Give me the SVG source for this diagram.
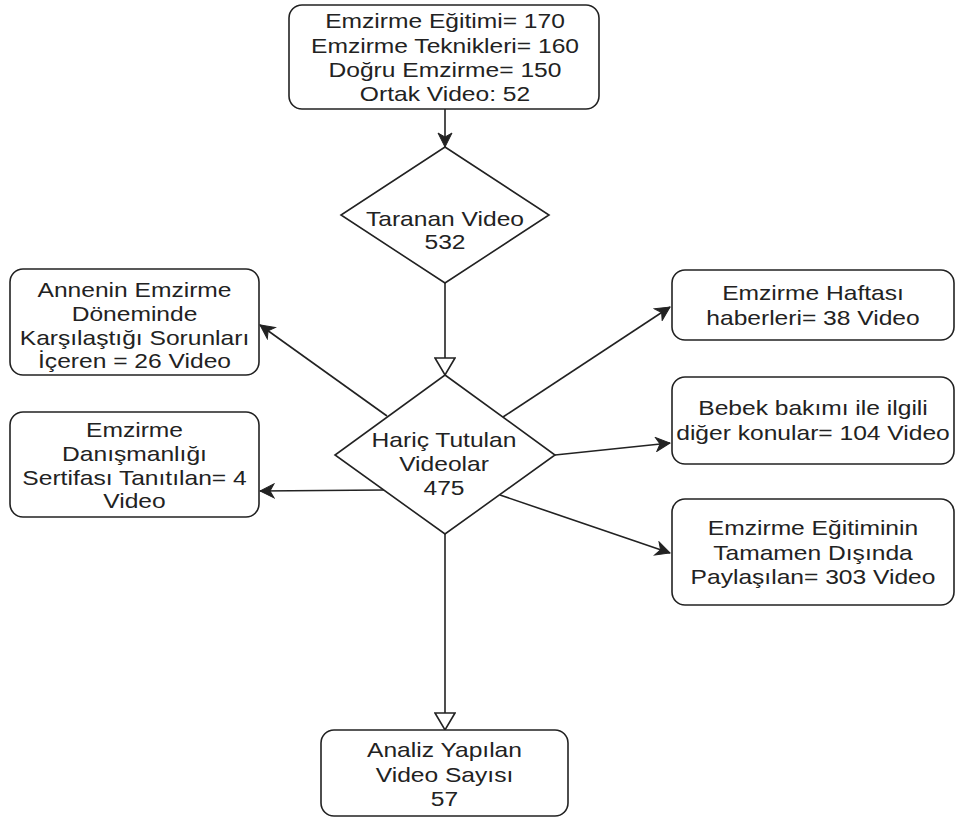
<svg xmlns="http://www.w3.org/2000/svg" width="956" height="818" viewBox="0 0 956 818">
<style>
.box{fill:#fff;stroke:#222;stroke-width:1.6}
.t{font-family:"Liberation Sans",Arial,sans-serif;font-size:20.5px;fill:#222;text-anchor:middle}
.c{fill:none;stroke:#222;stroke-width:1.6}
</style>
<defs>
<marker id="fa" markerUnits="userSpaceOnUse" markerWidth="16" markerHeight="16" viewBox="0 0 16 16" refX="15" refY="8" orient="auto">
<path d="M1,1 L15,8 L1,15 L5,8 Z" fill="#222" stroke="#222" stroke-width="1"/>
</marker>
<marker id="oa" markerUnits="userSpaceOnUse" markerWidth="20" markerHeight="22" viewBox="0 0 20 22" refX="18" refY="11" orient="auto">
<path d="M1,1 L18,11 L1,21 Z" fill="#fff" stroke="#222" stroke-width="1.6"/>
</marker>
</defs>
<rect width="956" height="818" fill="#fff"/>
<g id="connectors">
<line class="c" x1="445" y1="109" x2="445" y2="147" marker-end="url(#fa)"/>
<line class="c" x1="445" y1="283" x2="445" y2="375" marker-end="url(#oa)"/>
<line class="c" x1="445" y1="534" x2="445" y2="730" marker-end="url(#oa)"/>
<line class="c" x1="387" y1="416" x2="260" y2="325" marker-end="url(#fa)"/>
<line class="c" x1="384" y1="490" x2="260" y2="491" marker-end="url(#fa)"/>
<line class="c" x1="503" y1="417" x2="670" y2="307" marker-end="url(#fa)"/>
<line class="c" x1="555" y1="455" x2="670" y2="443" marker-end="url(#fa)"/>
<line class="c" x1="500" y1="495" x2="670" y2="553" marker-end="url(#fa)"/>
</g>
<g id="node-top">
<rect class="box" x="289" y="5" width="310" height="104" rx="13"/>
<text class="t" transform="translate(445,0) scale(1.2,1)"><tspan x="0" y="28">Emzirme Eğitimi= 170</tspan><tspan x="0" y="53">Emzirme Teknikleri= 160</tspan><tspan x="0" y="77">Doğru Emzirme= 150</tspan><tspan x="0" y="101">Ortak Video: 52</tspan></text>
</g>
<g id="node-taranan">
<polygon class="box" points="445,147 549,215 445,283 341,215"/>
<text class="t" transform="translate(445,0) scale(1.2,1)"><tspan x="0" y="226">Taranan Video</tspan><tspan x="0" y="249">532</tspan></text>
</g>
<g id="node-haric">
<polygon class="box" points="445,375 555,455 445,534 335,455"/>
<text class="t" transform="translate(444,0) scale(1.2,1)"><tspan x="0" y="447">Hariç Tutulan</tspan><tspan x="0" y="471">Videolar</tspan><tspan x="0" y="495">475</tspan></text>
</g>
<g id="node-annenin">
<rect class="box" x="10" y="269" width="249" height="106" rx="13"/>
<text class="t" transform="translate(134.5,0) scale(1.2,1)"><tspan x="0" y="297">Annenin Emzirme</tspan><tspan x="0" y="321">Döneminde</tspan><tspan x="0" y="345">Karşılaştığı Sorunları</tspan><tspan x="0" y="368">İçeren = 26 Video</tspan></text>
</g>
<g id="node-sertifika">
<rect class="box" x="10" y="412" width="249" height="105" rx="13"/>
<text class="t" transform="translate(134.5,0) scale(1.2,1)"><tspan x="0" y="437">Emzirme</tspan><tspan x="0" y="461">Danışmanlığı</tspan><tspan x="0" y="485">Sertifası Tanıtılan= 4</tspan><tspan x="0" y="508">Video</tspan></text>
</g>
<g id="node-hafta">
<rect class="box" x="672" y="270" width="282" height="70" rx="13"/>
<text class="t" transform="translate(813,0) scale(1.2,1)"><tspan x="0" y="300">Emzirme Haftası</tspan><tspan x="0" y="325">haberleri= 38 Video</tspan></text>
</g>
<g id="node-bebek">
<rect class="box" x="672" y="377" width="282" height="87" rx="13"/>
<text class="t" transform="translate(813,0) scale(1.2,1)"><tspan x="0" y="415">Bebek bakımı ile ilgili</tspan><tspan x="0" y="440">diğer konular= 104 Video</tspan></text>
</g>
<g id="node-disinda">
<rect class="box" x="672" y="499" width="282" height="106" rx="13"/>
<text class="t" transform="translate(813,0) scale(1.2,1)"><tspan x="0" y="535">Emzirme Eğitiminin</tspan><tspan x="0" y="560">Tamamen Dışında</tspan><tspan x="0" y="584">Paylaşılan= 303 Video</tspan></text>
</g>
<g id="node-analiz">
<rect class="box" x="321" y="730" width="247" height="86" rx="13"/>
<text class="t" transform="translate(444.5,0) scale(1.2,1)"><tspan x="0" y="757">Analiz Yapılan</tspan><tspan x="0" y="782">Video Sayısı</tspan><tspan x="0" y="806">57</tspan></text>
</g>
</svg>
